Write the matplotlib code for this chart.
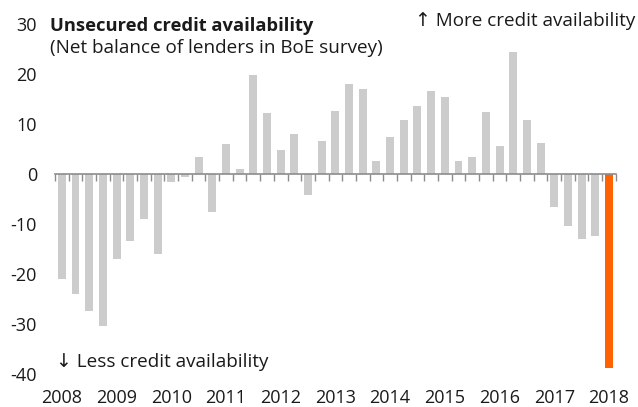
import matplotlib.pyplot as plt
import numpy as np

plt.rcParams["font.family"] = ["Open Sans", "DejaVu Sans"]
plt.rcParams["axes.unicode_minus"] = False

# net balance of lenders, quarterly 2008 Q1 - 2018 Q1
net_balance = [
    -21.0, -24.0, -27.4, -30.4,
    -17.0, -13.3, -8.9, -16.0,
    -1.5, -0.5, 3.5, -7.5,
    6.1, 1.1, 19.8, 12.3,
    4.8, 8.1, -4.1, 6.6,
    12.6, 18.0, 17.1, 2.6,
    7.4, 10.8, 13.6, 16.6,
    15.4, 2.6, 3.5, 12.5,
    5.6, 24.5, 10.9, 6.2,
    -6.6, -10.3, -12.9, -12.3,
    -38.7,
]
years = [str(y) for y in range(2008, 2019)]

GREY = "#cccccc"
ORANGE = "#ff6200"
TEXT = "#1a1a1a"
AXIS = "#8c8c8c"
FS_TICK = 13
FS_TEXT = 13.6

n = len(net_balance)
x = np.arange(n)
colors = [GREY] * (n - 1) + [ORANGE]

fig = plt.figure(figsize=(6.38, 4.07), dpi=100)
ax = fig.add_axes([0.0862, 0.081, 0.879, 0.860])

ax.bar(x, net_balance, width=0.58, color=colors, zorder=2)

ax.set_xlim(-0.5, n - 0.5)
ax.set_ylim(-40, 30)
ax.set_yticks(range(-40, 31, 10))
ax.tick_params(axis="y", length=0, pad=13, labelsize=FS_TICK, labelcolor=TEXT)

# zero line with small ticks between quarters
for side in ("top", "right", "left"):
    ax.spines[side].set_visible(False)
ax.spines["bottom"].set_position(("data", 0))
ax.spines["bottom"].set_color(AXIS)
ax.spines["bottom"].set_linewidth(1.2)
ax.spines["bottom"].set_zorder(3)
ax.set_xticks(np.arange(n + 1) - 0.5)
ax.tick_params(axis="x", direction="out", length=5, width=1, color=AXIS,
               labelbottom=False)

# year labels along the bottom
sec = ax.secondary_xaxis(0.0)
sec.set_xticks(x[::4], years)
sec.spines["bottom"].set_visible(False)
sec.tick_params(length=0, pad=11, labelsize=FS_TICK, labelcolor=TEXT)

fig.text(0.078, 0.936, "Unsecured credit availability", fontsize=FS_TEXT - 0.4,
         fontweight="bold", color=TEXT, va="center", ha="left")
fig.text(0.078, 0.882, "(Net balance of lenders in BoE survey)", fontsize=FS_TEXT,
         color=TEXT, va="center", ha="left")
fig.text(0.996, 0.948, "\u2191 More credit availability", fontsize=FS_TEXT,
         color=TEXT, va="center", ha="right")
ax.text(-0.4, -37.6, "\u2193 Less credit availability", fontsize=FS_TEXT,
        color=TEXT, va="center", ha="left")

fig.savefig("out.png", dpi=100)
